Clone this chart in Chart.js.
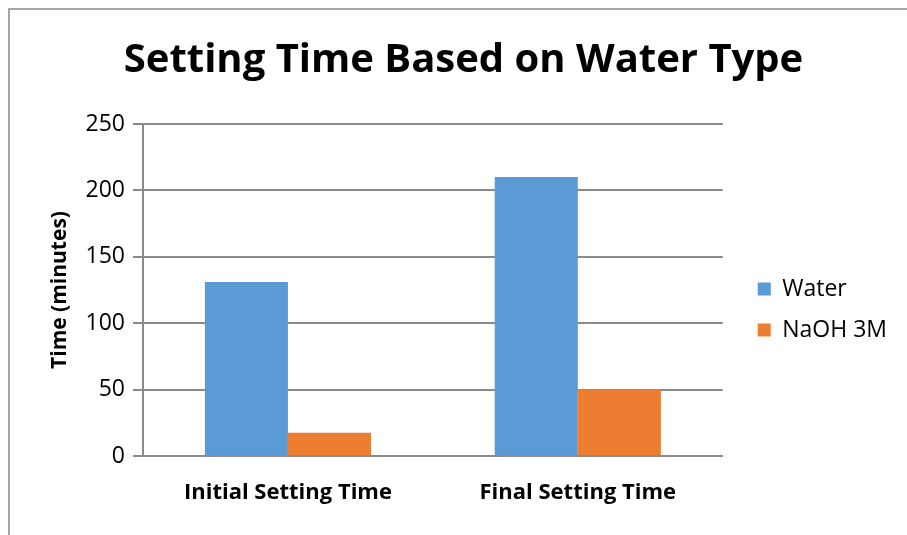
<!DOCTYPE html>
<html>
<head>
<meta charset="utf-8">
<script src="https://cdn.jsdelivr.net/npm/chart.js@4/dist/chart.umd.min.js"></script>
<style>
  html, body { margin: 0; padding: 0; background: #fff; }
  #wrap { position: relative; width: 907px; height: 535px; }
  #frame { position: absolute; left: 8px; top: 8px; right: -4px; bottom: -4px;
           border-left: 2px solid #a6a6a6; border-top: 2px solid #a6a6a6; pointer-events: none; }
  canvas { position: absolute; left: 0; top: 0; }
</style>
</head>
<body>
<div id="wrap">
  <canvas id="c" width="907" height="535"></canvas>
  <div id="frame"></div>
</div>
<script>
// Setting times (minutes) per water type
const categories = ['Initial Setting Time', 'Final Setting Time'];
const waterTimes = [131, 210];
const naohTimes = [17.5, 50];
const yTicks = [0, 50, 100, 150, 200, 250];

const FONT = '"Open Sans", Lato, sans-serif';
const GRID = '#8a8a8a';

// Nudge the legend block away from the plot area and down a little
const legendShift = {
  id: 'legendShift',
  afterLayout(chart) {
    const lg = chart.legend;
    if (!lg) return;
    lg.left += 17; lg.right += 17;
    lg.top += 42; lg.bottom += 42;
  }
};

new Chart(document.getElementById('c'), {
  type: 'bar',
  data: {
    labels: categories,
    datasets: [
      { label: 'Water', data: waterTimes, backgroundColor: '#5b9bd5' },
      { label: 'NaOH 3M', data: naohTimes, backgroundColor: '#ed7d31' }
    ]
  },
  plugins: [legendShift],
  options: {
    responsive: false,
    animation: false,
    devicePixelRatio: 1,
    layout: { padding: { left: 47, right: 27, top: 0, bottom: 0 } },
    datasets: { bar: { barPercentage: 1.0, categoryPercentage: 0.573 } },
    plugins: {
      title: {
        display: true,
        text: 'Setting Time Based on Water Type',
        color: '#000',
        font: { family: FONT, size: 40, weight: 'bold' },
        padding: { top: 37, bottom: 39 }
      },
      legend: {
        position: 'right',
        labels: {
          color: '#000',
          font: { family: FONT, size: 23 },
          boxWidth: 13,
          boxHeight: 13,
          padding: 18
        }
      },
      tooltip: { enabled: false }
    },
    scales: {
      x: {
        grid: { display: false },
        border: { display: true, color: GRID, width: 2 },
        ticks: { color: '#000', font: { family: FONT, size: 22, weight: 'bold' }, padding: 16 },
        afterFit: (axis) => { axis.height = 79; }
      },
      y: {
        min: 0,
        max: 250,
        afterBuildTicks: (axis) => { axis.ticks = yTicks.map(v => ({ value: v })); },
        grid: { color: GRID, lineWidth: 2, tickLength: 10, tickColor: GRID },
        border: { display: true, color: GRID, width: 2 },
        ticks: { color: '#000', font: { family: FONT, size: 23 }, padding: 8 },
        title: {
          display: true,
          text: 'Time (minutes)',
          color: '#000',
          font: { family: FONT, size: 21, weight: 'bold' },
          padding: { top: 0, bottom: 0 }
        },
        afterFit: (axis) => { axis.width = 96; }
      }
    }
  }
});
</script>
</body>
</html>
